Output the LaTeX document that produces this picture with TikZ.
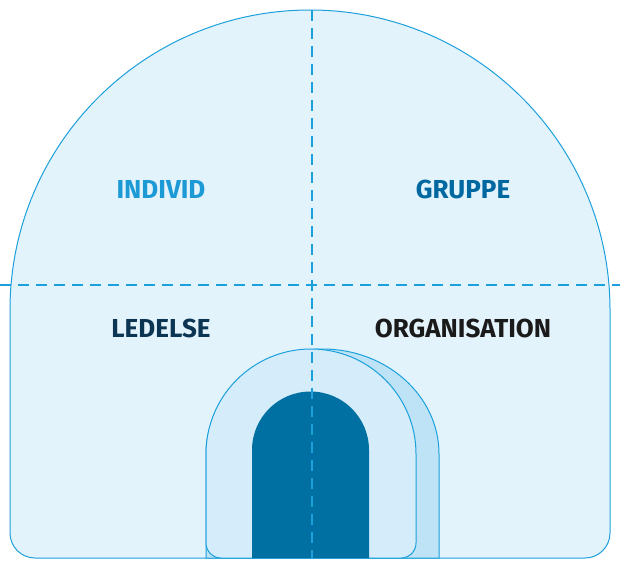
\documentclass[tikz,border=0pt]{standalone}
\usepackage{fontspec}
\setmainfont{Fira Sans}
\definecolor{fillA}{HTML}{E3F3FC}
\definecolor{line}{HTML}{1BA0DC}
\definecolor{fillB}{HTML}{D5ECFA}
\definecolor{fillC}{HTML}{BEE3F7}
\definecolor{door}{HTML}{0070A3}
\definecolor{cI}{HTML}{1C9AD6}
\definecolor{cG}{HTML}{0068A0}
\definecolor{cL}{HTML}{0B3552}
\definecolor{cO}{HTML}{1A1A1A}
\begin{document}
\begin{tikzpicture}[x=1pt,y=1pt,
  outl/.style={draw=line,line width=1pt},
  dashln/.style={draw=line,line width=1.1pt,dash pattern=on 11pt off 7pt},
  lab/.style={font=\fontsize{26}{26}\selectfont\bfseries,inner sep=0pt,anchor=base}]
\useasboundingbox (0,0) rectangle (620,566);
\path[outl,fill=fillA] (35,8) -- (585,8) arc (-90:0:25) -- (610,256) arc (0:180:300) -- (10,33) arc (180:270:25) -- cycle;
\path[outl,fill=fillC] (206,8) -- (439,8) -- (439,112) arc (0:180:116.5 and 105) -- cycle;
\path[outl,fill=fillB] (221,8) -- (401,8) arc (-90:0:15) -- (416,112) arc (0:180:105) -- (206,23) arc (180:270:15) -- cycle;
\path[fill=door] (252,8) -- (369,8) -- (369,116) arc (0:180:58.5) -- cycle;
\coordinate (hl) at (0,281); \coordinate (hr) at (620,281);
\coordinate (vt) at (312,556); \coordinate (vb) at (312,8);
\draw[dashln] (hl) -- (hr);
\draw[dashln] (vt) -- (vb);
\node[lab,text=cI] (ind) at (161,368) {INDIVID};
\node[lab,text=cG] (gru) at (463,368) {GRUPPE};
\node[lab,text=cL] (led) at (161,229) {LEDELSE};
\node[lab,text=cO] (org) at (463,229) {ORGANISATION};
\end{tikzpicture}
\end{document}
